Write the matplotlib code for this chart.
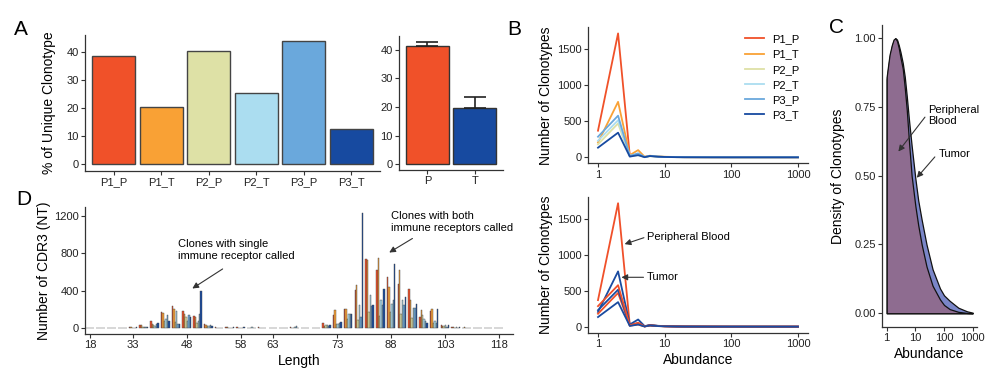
import matplotlib
matplotlib.use("Agg")
import matplotlib.pyplot as plt

plt.rcParams["font.family"] = ["Liberation Sans", "DejaVu Sans"]

W, H = 1000, 386

# ---- data ----
samples = ["P1_P", "P1_T", "P2_P", "P2_T", "P3_P", "P3_T"]
colors = ["#F05129", "#F9A135", "#DEE1A6", "#ABDDF0", "#6AA8DC", "#174AA0"]
unique_pct = [38.8, 20.5, 40.6, 25.6, 44.1, 12.5]

tissues = ["P", "T"]
tissue_mean = [41.4, 19.6]
tissue_err = [1.4, 3.8]
tissue_colors = ["#F05129", "#174AA0"]

abundance = [1, 2, 3, 4, 5, 6, 8, 10, 15, 20, 50, 100, 1000]
p1_p = [370, 1720, 20, 40, 5, 20, 10, 5, 3, 2, 1, 0, 0]
p1_t = [205, 770, 30, 100, 8, 22, 12, 8, 4, 2, 1, 1, 0]
p2_p = [180, 470, 15, 30, 3, 15, 8, 5, 2, 1, 0, 0, 0]
p2_t = [230, 515, 20, 50, 5, 18, 10, 6, 3, 2, 1, 0, 0]
p3_p = [286, 578, 18, 55, 4, 20, 10, 6, 3, 2, 1, 0, 0]
p3_t = [134, 342, 10, 30, 2, 18, 8, 5, 2, 1, 0, 0, 0]
clono_counts = [p1_p, p1_t, p2_p, p2_t, p3_p, p3_t]
line_red = "#F0502A"
line_blue = "#1A4BA0"

dens_x = [1, 1.12, 1.26, 1.51, 1.74, 2.0, 2.29, 2.63, 3.02, 3.63, 4.27, 5.01,
          6.03, 7.41, 10, 12.6, 16.6, 24.5, 39.8, 72.4, 100, 158, 316, 631, 1000]
dens_blood = [0.86, 0.90, 0.94, 0.975, 0.995, 1.00, 0.99, 0.965, 0.93, 0.89,
              0.82, 0.74, 0.62, 0.50, 0.39, 0.32, 0.25, 0.17, 0.10, 0.05, 0.03,
              0.015, 0.005, 0.001, 0.0]
dens_tumor = [0.85, 0.89, 0.93, 0.97, 0.99, 1.00, 0.995, 0.975, 0.95, 0.91,
              0.86, 0.79, 0.70, 0.61, 0.49, 0.41, 0.34, 0.25, 0.16, 0.09, 0.065,
              0.045, 0.02, 0.007, 0.002]
blood_color = "#8E6C90"
tumor_color = "#7A86C8"

lengths = [18, 21, 27, 30, 33, 36, 39, 42, 45, 48, 51, 52, 54, 55, 58, 60, 61, 63,
           64, 66, 67, 69, 70, 73, 76, 79, 82, 85, 88, 91, 94, 97, 100, 103, 106,
           109, 112, 115, 118]
len_ticks = [18, 33, 48, 58, 63, 73, 88, 103, 118]
cdr3_p1_p = [2, 3, 5, 8, 12, 40, 75, 175, 235, 190, 130, 50, 10, 12, 10, 6, 12, 8,
             4, 10, 4, 6, 57, 139, 210, 407, 735, 628, 543, 470, 420, 125, 185, 30,
             15, 8, 5, 4, 3]
cdr3_p1_t = [1, 2, 4, 6, 10, 30, 50, 160, 210, 150, 120, 40, 8, 10, 8, 8, 6, 6,
             3, 8, 3, 4, 20, 193, 210, 460, 728, 746, 443, 620, 300, 196, 203, 25,
             12, 10, 3, 2, 2]
cdr3_p2_p = [1, 1, 2, 3, 5, 12, 30, 80, 70, 120, 60, 20, 4, 5, 5, 5, 4, 3,
             2, 5, 5, 3, 30, 50, 100, 90, 175, 130, 170, 150, 110, 143, 60, 20,
             6, 5, 2, 1, 1]
cdr3_p2_t = [2, 2, 3, 5, 8, 15, 20, 100, 180, 80, 80, 25, 6, 8, 8, 10, 5, 5,
             3, 12, 6, 5, 40, 50, 157, 246, 360, 300, 260, 300, 214, 100, 80, 30,
             10, 6, 4, 3, 2]
cdr3_p3_p = [1, 1, 2, 3, 6, 10, 50, 140, 50, 140, 150, 30, 5, 6, 4, 4, 3, 3,
             2, 20, 4, 3, 25, 60, 157, 120, 240, 250, 300, 250, 220, 80, 60, 15,
             5, 4, 2, 1, 1]
cdr3_p3_t = [1, 2, 3, 4, 9, 14, 60, 80, 50, 120, 400, 20, 5, 12, 15, 5, 6, 4,
             3, 8, 5, 4, 30, 68, 157, 1235, 250, 425, 685, 330, 260, 60, 210, 35,
             15, 8, 3, 2, 2]
cdr3_counts = [cdr3_p1_p, cdr3_p1_t, cdr3_p2_p, cdr3_p2_t, cdr3_p3_p, cdr3_p3_t]

fig = plt.figure(figsize=(W / 100, H / 100), dpi=100)


def box(l, t, r, b):
    return fig.add_axes([l / W, 1 - b / H, (r - l) / W, (b - t) / H])


def style(ax):
    for s in ["top", "right"]:
        ax.spines[s].set_visible(False)
    for s in ["left", "bottom"]:
        ax.spines[s].set_color("#333333")
        ax.spines[s].set_linewidth(0.9)
    ax.tick_params(length=3, width=0.8, color="#333333", labelsize=8,
                   labelcolor="#222222", pad=1.5)
    ax.minorticks_off()


arrow_kw = dict(arrowstyle="-|>", color="#333333", lw=0.8, mutation_scale=9)

# ---- A: unique clonotypes per sample ----
ax = box(85, 35, 380, 170.7)
style(ax)
ax.bar(range(len(samples)), unique_pct, width=0.9, color=colors,
       edgecolor="#444444", linewidth=1)
ax.set_xticks(range(len(samples)))
ax.set_xticklabels(samples)
ax.set_yticks([0, 10, 20, 30, 40])
ax.set_xlim(-0.6, 5.6)
ax.set_ylim(-2.3, 46.2)
ax.set_ylabel("% of Unique Clonotype", fontsize=10)
ax.yaxis.set_label_coords(-0.10, 0.5)

ax = box(399, 36, 503, 170)
style(ax)
ax.bar(range(len(tissues)), tissue_mean, width=0.9, color=tissue_colors,
       edgecolor="#333333", linewidth=1)
ax.errorbar(range(len(tissues)), tissue_mean, yerr=[[0, 0], tissue_err],
            fmt="none", ecolor="#222222", elinewidth=1.2, capsize=8, capthick=1.2)
ax.set_xticks(range(len(tissues)))
ax.set_xticklabels(tissues)
ax.set_yticks([0, 10, 20, 30, 40])
ax.set_xlim(-0.6, 1.6)
ax.set_ylim(-2.1, 44.9)

# ---- B: clonotype abundance ----
xlim_b = (10 ** -0.15, 10 ** 3.15)
ax = box(588, 27.3, 808, 163.3)
style(ax)
for counts, name, c in zip(clono_counts, samples, colors):
    ax.plot(abundance, counts, color=c, lw=1.3, label=name)
ax.set_xscale("log")
ax.set_xlim(*xlim_b)
ax.set_ylim(-83, 1805)
ax.set_xticks([1, 10, 100, 1000])
ax.set_xticklabels(["1", "10", "100", "1000"])
ax.minorticks_off()
ax.set_yticks([0, 500, 1000, 1500])
ax.set_ylabel("Number of Clonotypes", fontsize=10)
ax.yaxis.set_label_coords(-0.16, 0.5)
ax.legend(loc="upper left", bbox_to_anchor=(0.69, 0.99), frameon=False,
          fontsize=8, handlelength=1.7, handletextpad=0.7, labelspacing=0.47,
          borderpad=0)

ax = box(588, 196.7, 808, 332.7)
style(ax)
for counts, name in zip(clono_counts, samples):
    ax.plot(abundance, counts, lw=1.3,
            color=line_red if name.endswith("P") else line_blue)
ax.set_xscale("log")
ax.set_xlim(*xlim_b)
ax.set_ylim(-84, 1811)
ax.set_xticks([1, 10, 100, 1000])
ax.set_xticklabels(["1", "10", "100", "1000"])
ax.minorticks_off()
ax.set_yticks([0, 500, 1000, 1500])
ax.set_ylabel("Number of Clonotypes", fontsize=10)
ax.yaxis.set_label_coords(-0.16, 0.5)
ax.set_xlabel("Abundance", fontsize=10, labelpad=3)
ax.text(5.43, 1245, "Peripheral Blood", fontsize=8, va="center", ha="left")
ax.annotate("", xy=(2.29, 1138), xytext=(5.35, 1252), arrowprops=arrow_kw)
ax.text(5.43, 688, "Tumor", fontsize=8, va="center", ha="left")
ax.annotate("", xy=(2.04, 688), xytext=(5.3, 688), arrowprops=arrow_kw)

# ---- C: density ----
ax = box(882.3, 25, 976.7, 326.7)
style(ax)
ax.fill_between(dens_x, 0, dens_tumor, facecolor=tumor_color,
                edgecolor="#111111", linewidth=0.9)
ax.fill_between(dens_x, 0, dens_blood, facecolor=blood_color,
                edgecolor="#111111", linewidth=0.9)
ax.set_xscale("log")
ax.set_xlim(10 ** -0.153, 10 ** 3.14)
ax.set_ylim(-0.049, 1.048)
ax.set_xticks([1, 10, 100, 1000])
ax.set_xticklabels(["1", "10", "100", "1000"])
ax.minorticks_off()
ax.set_yticks([0, 0.25, 0.5, 0.75, 1.0])
ax.set_yticklabels(["0.00", "0.25", "0.50", "0.75", "1.00"])
ax.set_ylabel("Density of Clonotypes", fontsize=10)
ax.yaxis.set_label_coords(-0.39, 0.5)
ax.set_xlabel("Abundance", fontsize=10, labelpad=3)
ax.text(28.5, 0.72, "Peripheral\nBlood", fontsize=8, va="center", ha="left",
        linespacing=1.15)
ax.annotate("", xy=(2.23, 0.58), xytext=(24.8, 0.721), arrowprops=arrow_kw)
ax.text(63, 0.58, "Tumor", fontsize=8, va="center", ha="left")
ax.annotate("", xy=(9.7, 0.485), xytext=(55.4, 0.576), arrowprops=arrow_kw)

# ---- D: CDR3 length distribution ----
ax = box(85, 206.7, 512.7, 334)
style(ax)
n = len(samples)
bw = 0.8 / n
for k, (counts, c) in enumerate(zip(cdr3_counts, colors)):
    xs = [i - 0.4 + (k + 0.5) * bw for i in range(len(lengths))]
    ax.bar(xs, counts, width=bw, color=c, edgecolor="#444444", linewidth=0.3)
ax.set_xticks([lengths.index(v) for v in len_ticks])
ax.set_xticklabels([str(v) for v in len_ticks])
ax.set_yticks([0, 400, 800, 1200])
ax.set_xlim(-0.46, 39.3)
ax.set_ylim(-61, 1299)
ax.set_ylabel("Number of CDR3 (NT)", fontsize=10)
ax.yaxis.set_label_coords(-0.08, 0.5)
ax.set_xlabel("Length", fontsize=10, labelpad=3)
ax.text(8.15, 837, "Clones with single\nimmune receptor called", fontsize=8,
        va="center", ha="left", linespacing=1.25)
ax.annotate("", xy=(9.3, 409), xytext=(12.55, 650), arrowprops=arrow_kw)
ax.text(27.95, 1136, "Clones with both\nimmune receptors called", fontsize=8,
        va="center", ha="left", linespacing=1.25)
ax.annotate("", xy=(27.6, 794), xytext=(30.2, 975), arrowprops=arrow_kw)

# ---- panel letters ----
for letter, x, y in [("A", 14, 35), ("B", 507, 35), ("C", 829, 33), ("D", 16, 205)]:
    fig.text(x / W, 1 - y / H, letter, fontsize=15, va="baseline", ha="left")

fig.savefig("out.png", dpi=100)
